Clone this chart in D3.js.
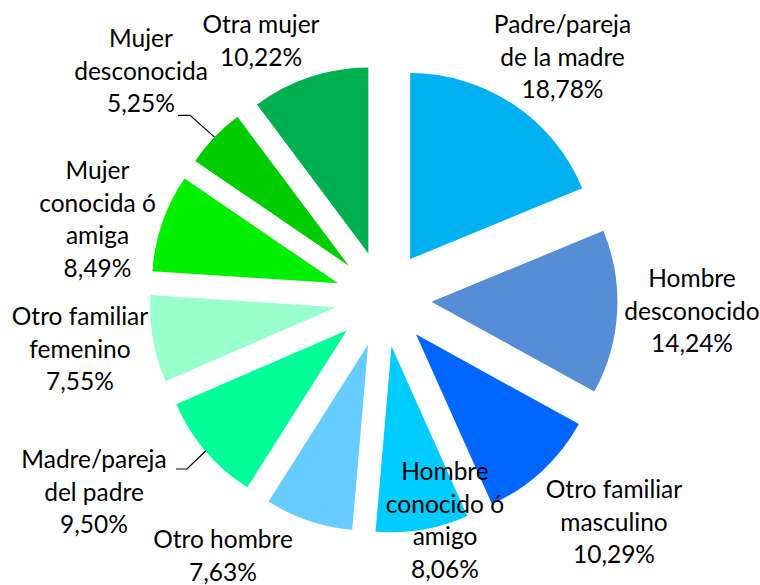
<!DOCTYPE html>
<meta charset="utf-8">
<html lang="es">
<head>
<script src="https://d3js.org/d3.v7.min.js"></script>
<style>
  body { margin: 0; background: #fff; }
  text { font-family: Lato, "Open Sans", sans-serif; font-size: 24.5px; fill: #000; }
</style>
</head>
<body>
<div id="chart"></div>
<script>
// categories, clockwise from 12 o'clock
const categories = [
  ["Padre/pareja", "de la madre"],
  ["Hombre", "desconocido"],
  ["Otro familiar", "masculino"],
  ["Hombre", "conocido ó", "amigo"],
  ["Otro hombre"],
  ["Madre/pareja", "del padre"],
  ["Otro familiar", "femenino"],
  ["Mujer", "conocida ó", "amiga"],
  ["Mujer", "desconocida"],
  ["Otra mujer"]
];
const values = [18.78, 14.24, 10.29, 8.06, 7.63, 9.50, 7.55, 8.49, 5.25, 10.22];
const valueLabels = ["18,78%", "14,24%", "10,29%", "8,06%", "7,63%", "9,50%", "7,55%", "8,49%", "5,25%", "10,22%"];

const palette = ["#00b0f0", "#558ed5", "#0066ff", "#00ccff", "#66ccff",
                 "#00ff99", "#99ffcc", "#00f000", "#00cc00", "#00b050"];

// label block: centre x and first baseline, relative to the pie centre
const labelOffset = [
  [179, -266], [308.5, -12], [230.5, 199], [61.5, 181], [-160.5, 249],
  [-289.5, 169], [-303.5, 26], [-286, -120], [-242.5, -252], [-122.5, -266]
];
// leader lines: [line index of label it attaches to, elbow x, start x, dy below baseline]
const leaders = {5: [0, 187, 176, 1], 8: [2, 190, 178, 3]};

const width = 760, height = 585;
const cx = 383.5, cy = 299, radius = 186, explode = 48;
const lineH = 32.7;

const svg = d3.select("#chart").append("svg")
  .attr("width", width).attr("height", height);
const g = svg.append("g").attr("transform", `translate(${cx},${cy})`);

const pie = d3.pie().sort(null).value(d => d)(values);
const arc = d3.arc().innerRadius(0).outerRadius(radius);

function shift(d) {
  const a = (d.startAngle + d.endAngle) / 2;
  return [explode * Math.sin(a), -explode * Math.cos(a)];
}

g.selectAll("path.slice").data(pie).join("path")
  .attr("class", "slice")
  .attr("d", arc)
  .attr("fill", (d, i) => palette[i])
  .attr("transform", d => `translate(${shift(d)})`);

// leader lines
pie.forEach((d, i) => {
  const L = leaders[i];
  if (!L) return;
  const a = (d.startAngle + d.endAngle) / 2;
  const s = shift(d);
  const ex = s[0] + radius * Math.sin(a), ey = s[1] - radius * Math.cos(a);
  const ly = labelOffset[i][1] + L[0] * lineH + L[3];
  g.append("polyline")
    .attr("points", [[L[2] - cx, ly], [L[1] - cx, ly], [ex, ey]].map(p => p.join(",")).join(" "))
    .attr("fill", "none").attr("stroke", "#000").attr("stroke-width", 1.2);
});

// labels
const labels = g.selectAll("text.lbl").data(pie).join("text")
  .attr("class", "lbl")
  .attr("text-anchor", "middle");

labels.each(function(d, i) {
  const lines = categories[i].concat([valueLabels[i]]);
  const t = d3.select(this);
  lines.forEach((s, k) => {
    t.append("tspan")
      .attr("x", labelOffset[i][0])
      .attr("y", labelOffset[i][1] + k * lineH)
      .text(s);
  });
});
</script>
</body>
</html>
